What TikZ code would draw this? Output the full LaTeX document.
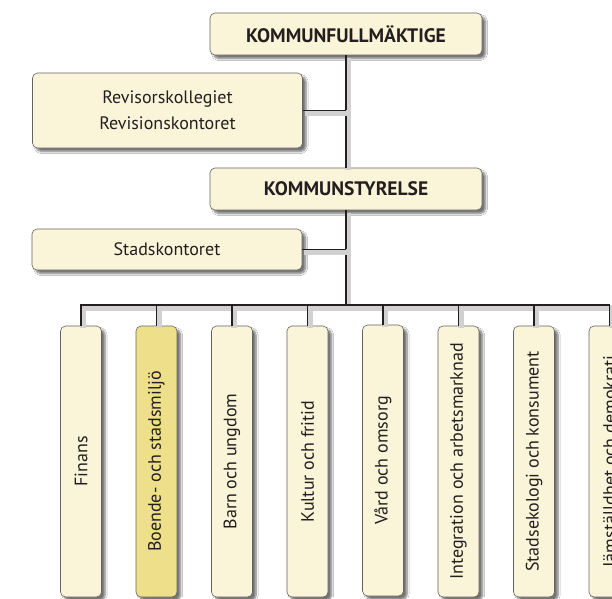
\documentclass[tikz,border=0pt]{standalone}
\usepackage{fontspec}
\setmainfont{PT Sans}
\usetikzlibrary{positioning,shadows.blur}
\definecolor{cream}{HTML}{FAF5D8}
\definecolor{straw}{HTML}{EEE08A}
\definecolor{ink}{HTML}{231F20}
\tikzset{
  org/.style={draw=ink!70,line width=0.6pt,fill=cream,rounded corners=5pt,
    text=ink,font=\fontsize{18}{25.7}\selectfont,align=center,inner sep=0pt,
    blur shadow={shadow xshift=3.5pt,shadow yshift=-3.5pt,shadow blur steps=6,shadow opacity=55}},
  top/.style={org,minimum width=272pt,minimum height=42pt,font=\fontsize{19.5}{22}\selectfont\bfseries},
  side/.style={org,minimum width=270pt},
  dept/.style={org,rotate=90,minimum width=271pt,minimum height=41pt},
  wire/.style={line width=1.8pt,ink,
    preaction={draw=black!18,line width=6pt,transform canvas={shift={(2pt,-2.5pt)}}}}
}
\begin{document}
\begin{tikzpicture}[x=1pt,y=-1pt]
\useasboundingbox[fill=white](0,0) rectangle (612,598);
% ledning
\node[top] (kf) at (346,34) {KOMMUNFULLMÄKTIGE};
\node[side,minimum height=75pt] (rev) at (167.5,110.5) {Revisorskollegiet\\Revisionskontoret};
\node[top] (ks) at (346,189) {KOMMUNSTYRELSE};
\node[side,minimum height=41pt] (sk) at (167,249.5) {Stadskontoret};
\coordinate (bus) at (346,305);
% nämnder
\node[dept] (fin) at (81,461.5) {Finans};
\node[dept,fill=straw] (boe) at (156.5,461.5) {Boende- och stadsmiljö};
\node[dept] (bar) at (232,461.5) {Barn och ungdom};
\node[dept] (kul) at (307.5,461.5) {Kultur och fritid};
\node[dept] (var) at (383,460.5) {Vård och omsorg};
\node[dept] (int) at (458.5,461.5) {Integration och arbetsmarknad};
\node[dept] (sek) at (534,461.5) {Stadsekologi och konsument};
\node[dept] (jam) at (609.5,461.5) {Jämställdhet och demokrati};
% linjer
\draw[wire] (kf.south) -- (ks.north);
\draw[wire] (rev.east) -- (rev.east -| kf.south);
\draw[wire] (ks.south) -- (bus);
\draw[wire] (sk.east) -- (sk.east -| ks.south);
\draw[wire] (fin.east) -- (fin.east |- bus) -- (jam.east |- bus) -- (jam.east);
\draw[wire] (boe.east) -- (boe.east |- bus);
\draw[wire] (bar.east) -- (bar.east |- bus);
\draw[wire] (kul.east) -- (kul.east |- bus);
\draw[wire] (var.east) -- (var.east |- bus);
\draw[wire] (int.east) -- (int.east |- bus);
\draw[wire] (sek.east) -- (sek.east |- bus);
\end{tikzpicture}
\end{document}
